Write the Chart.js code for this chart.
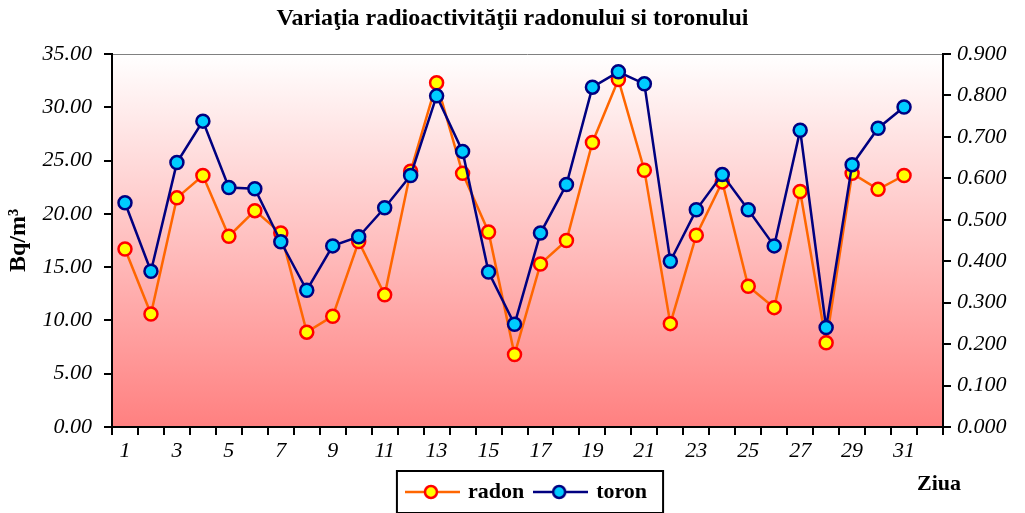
<!DOCTYPE html>
<html>
<head>
<meta charset="utf-8">
<script src="https://cdn.jsdelivr.net/npm/chart.js@4/dist/chart.umd.min.js"></script>
<style>
  html, body { margin: 0; padding: 0; background: #ffffff; }
  #wrap { width: 1025px; height: 513px; }
</style>
</head>
<body>
<div id="wrap"><canvas id="c" width="1025" height="513"></canvas></div>
<script>
const titleText = 'Variaţia radioactivităţii radonului si toronului';
const days = ['1','2','3','4','5','6','7','8','9','10','11','12','13','14','15','16',
              '17','18','19','20','21','22','23','24','25','26','27','28','29','30','31',''];
const radon = [16.7, 10.6, 21.5, 23.6, 17.9, 20.3, 18.2, 8.9, 10.4, 17.4, 12.4, 24.0, 32.3, 23.8, 18.3, 6.8,
               15.3, 17.5, 26.7, 32.6, 24.1, 9.7, 18.0, 23.0, 13.2, 11.2, 22.1, 7.9, 23.8, 22.3, 23.6];
const toron = [0.541, 0.376, 0.638, 0.738, 0.578, 0.575, 0.447, 0.330, 0.437, 0.459, 0.529, 0.607, 0.799, 0.665, 0.374, 0.248,
               0.468, 0.585, 0.820, 0.857, 0.828, 0.400, 0.524, 0.609, 0.524, 0.437, 0.716, 0.240, 0.633, 0.721, 0.772];
const leftTicks = { min: 0, max: 35, step: 5, decimals: 2 };
const rightTicks = { min: 0, max: 0.9, step: 0.1, decimals: 3 };

const SERIF = '"Liberation Serif", "Times New Roman", serif';

function legendIcon(lineColor, fill, border) {
  const cv = document.createElement('canvas');
  cv.width = 55; cv.height = 18;
  const g = cv.getContext('2d');
  g.strokeStyle = lineColor; g.lineWidth = 2.5;
  g.beginPath(); g.moveTo(0, 9); g.lineTo(55, 9); g.stroke();
  g.beginPath(); g.arc(26, 9, 6, 0, Math.PI * 2);
  g.fillStyle = fill; g.fill();
  g.strokeStyle = border; g.lineWidth = 2.5; g.stroke();
  return cv;
}
const radonIcon = legendIcon('#FF6600', '#FFFF00', '#FF0000');
const toronIcon = legendIcon('#000080', '#00CCFF', '#000080');

const decorPlugin = {
  id: 'decor',
  beforeDatasetsDraw(chart) {
    const { ctx, chartArea: a } = chart;
    ctx.save();
    const grad = ctx.createLinearGradient(0, a.top, 0, a.bottom);
    grad.addColorStop(0, '#FFFFFF');
    grad.addColorStop(1, '#FF8080');
    ctx.fillStyle = grad;
    ctx.fillRect(a.left, a.top, a.right - a.left, a.bottom - a.top);
    ctx.strokeStyle = '#808080'; ctx.lineWidth = 1;
    ctx.beginPath(); ctx.moveTo(a.left, a.top + 0.5); ctx.lineTo(a.right, a.top + 0.5); ctx.stroke();
    ctx.strokeStyle = '#000000'; ctx.lineWidth = 2;
    ctx.beginPath();
    ctx.moveTo(a.left, a.top); ctx.lineTo(a.left, a.bottom); ctx.lineTo(a.right, a.bottom); ctx.lineTo(a.right, a.top);
    ctx.stroke();
    ctx.restore();
  },
  afterDraw(chart) {
    const { ctx } = chart;
    ctx.save();
    const boxes = chart.legend.legendHitBoxes;
    if (boxes && boxes.length) {
      let l = Infinity, r = -Infinity, t = Infinity, b = -Infinity;
      boxes.forEach(h => { l = Math.min(l, h.left); r = Math.max(r, h.left + h.width); t = Math.min(t, h.top); b = Math.max(b, h.top + h.height); });
      ctx.strokeStyle = '#000000'; ctx.lineWidth = 2;
      ctx.strokeRect(l - 11, t - 10, (r - l) + 27, (b - t) + 20);
    }
    ctx.fillStyle = '#000000';
    ctx.font = 'bold 22px ' + SERIF;
    ctx.textAlign = 'center'; ctx.textBaseline = 'middle';
    ctx.fillText('Ziua', 939, 484);
    ctx.restore();
  }
};

new Chart(document.getElementById('c'), {
  type: 'line',
  data: {
    labels: days,
    datasets: [
      {
        label: 'radon', data: radon, yAxisID: 'y', order: 1,
        borderColor: '#FF6600', borderWidth: 2.5, backgroundColor: '#FFFF00',
        pointBackgroundColor: '#FFFF00', pointBorderColor: '#FF0000', pointBorderWidth: 2.5,
        pointRadius: 6.5, pointHoverRadius: 6.5, tension: 0, fill: false,
        pointStyle: 'circle'
      },
      {
        label: 'toron', data: toron, yAxisID: 'y1', order: 0,
        borderColor: '#000080', borderWidth: 2.5, backgroundColor: '#00CCFF',
        pointBackgroundColor: '#00CCFF', pointBorderColor: '#000080', pointBorderWidth: 2.5,
        pointRadius: 6.5, pointHoverRadius: 6.5, tension: 0, fill: false,
        pointStyle: 'circle'
      }
    ]
  },
  options: {
    responsive: false,
    animation: false,
    events: [],
    layout: { padding: { left: 0, right: 0, top: 0, bottom: 0 } },
    plugins: {
      title: {
        display: true, text: titleText, color: '#000000',
        font: { family: SERIF, size: 24, weight: 'bold' },
        padding: { top: 4, bottom: 21.2 }
      },
      legend: {
        display: true, position: 'bottom', fullSize: false,
        labels: {
          color: '#000000',
          font: { family: SERIF, size: 22, weight: 'bold' },
          usePointStyle: true, pointStyleWidth: 49, padding: 12,
          generateLabels(chart) {
            return [
              { text: 'radon', pointStyle: radonIcon, fillStyle: '#FFFF00', strokeStyle: '#FF0000', lineWidth: 0, datasetIndex: 0, fontColor: '#000' },
              { text: 'toron', pointStyle: toronIcon, fillStyle: '#00CCFF', strokeStyle: '#000080', lineWidth: 0, datasetIndex: 1, fontColor: '#000' }
            ];
          }
        }
      },
      tooltip: { enabled: false }
    },
    scales: {
      x: {
        type: 'category', offset: true,
        grid: { display: true, offset: true, drawOnChartArea: false, drawTicks: true, tickLength: 8, color: '#000000', lineWidth: 2 },
        border: { display: true, color: '#000000', width: 2 },
        ticks: {
          autoSkip: false, maxRotation: 0, color: '#000000', padding: 3,
          font: { family: SERIF, size: 22, style: 'italic' },
          callback(v, i) { return (i % 2 === 0) ? days[i] : ''; }
        },
        afterFit(s) { s.height = 42; }
      },
      y: {
        type: 'linear', position: 'left',
        min: leftTicks.min, max: leftTicks.max,
        grid: { display: true, drawOnChartArea: false, drawTicks: true, tickLength: 8, color: '#000000', lineWidth: 2 },
        border: { display: true, color: '#000000', width: 2 },
        ticks: {
          stepSize: leftTicks.step, color: '#000000', padding: 12,
          font: { family: SERIF, size: 22, style: 'italic' },
          callback(v) { return Number(v).toFixed(leftTicks.decimals); }
        },
        title: {
          display: true, text: 'Bq/m³', color: '#000000',
          font: { family: SERIF, size: 24, weight: 'bold' },
          padding: { top: 4, bottom: 0 }
        },
        afterFit(s) { s.width = 112; }
      },
      y1: {
        type: 'linear', position: 'right',
        min: rightTicks.min, max: rightTicks.max,
        grid: { display: true, drawOnChartArea: false, drawTicks: true, tickLength: 8, color: '#000000', lineWidth: 2 },
        border: { display: true, color: '#000000', width: 2 },
        ticks: {
          stepSize: rightTicks.step, color: '#000000', padding: 6,
          font: { family: SERIF, size: 22, style: 'italic' },
          callback(v) { return Number(v).toFixed(rightTicks.decimals); }
        },
        afterFit(s) { s.width = 82; }
      }
    }
  },
  plugins: [decorPlugin]
});
</script>
</body>
</html>
